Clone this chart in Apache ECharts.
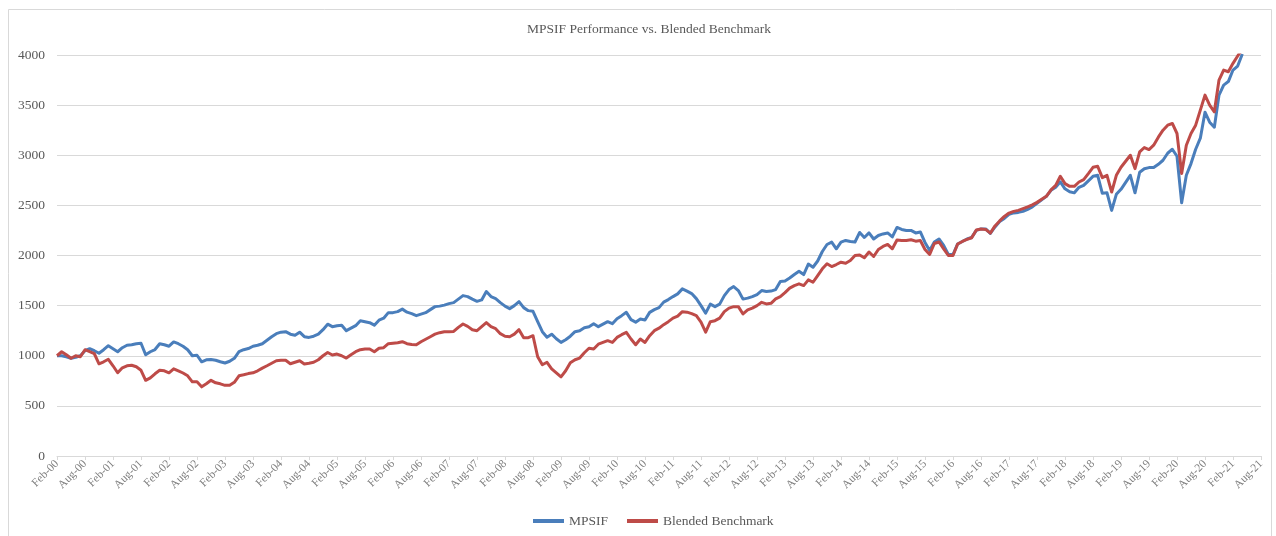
<!DOCTYPE html>
<html>
<head>
<meta charset="utf-8">
<script src="https://cdn.jsdelivr.net/npm/echarts@6/dist/echarts.min.js"></script>
<style>
    html, body { margin: 0; padding: 0; background: #fff; }
    #chart { width: 1276px; height: 536px; }
</style>
</head>
<body>
<div id="chart"></div>
<script>
// month labels, Feb-00 .. Aug-21
const monthNames = ['Jan', 'Feb', 'Mar', 'Apr', 'May', 'Jun', 'Jul', 'Aug', 'Sep', 'Oct', 'Nov', 'Dec']
const firstYear = 2000
const firstMonth = 1   // Feb
const monthCount = 259

const yTicks = [0, 500, 1000, 1500, 2000, 2500, 3000, 3500, 4000]

// values, one per month starting Feb-00
const mpsif = [
    1000, 1000, 990, 975, 985, 1000, 1050, 1070, 1050, 1025, 1060,
    1100, 1070, 1040, 1080, 1105, 1110, 1120, 1125, 1010, 1040, 1062, 1120,
    1110, 1095, 1138, 1120, 1095, 1060, 1000, 1005, 940, 960, 962, 955,
    940, 928, 945, 975, 1040, 1060, 1072, 1095, 1105, 1120, 1155, 1190,
    1220, 1235, 1240, 1215, 1205, 1235, 1190, 1183, 1195, 1215, 1260, 1315,
    1290, 1300, 1305, 1250, 1275, 1300, 1350, 1340, 1330, 1305, 1355, 1375,
    1430, 1430, 1440, 1465, 1435, 1420, 1400, 1415, 1430, 1460, 1490, 1495,
    1505, 1520, 1530, 1565, 1600, 1590, 1565, 1543, 1557, 1640, 1590, 1570,
    1530, 1495, 1470, 1500, 1540, 1480, 1450, 1443, 1340, 1240, 1185, 1215,
    1170, 1133, 1160, 1195, 1240, 1250, 1280, 1290, 1320, 1290, 1315, 1340,
    1320, 1370, 1400, 1433, 1360, 1335, 1367, 1357, 1433, 1460, 1480, 1535,
    1560, 1590, 1617, 1667, 1645, 1620, 1570, 1500, 1425, 1515, 1490, 1515,
    1600, 1660, 1690, 1650, 1565, 1575, 1590, 1610, 1650, 1640, 1645, 1660,
    1740, 1745, 1775, 1810, 1843, 1810, 1915, 1883, 1945, 2040, 2110, 2133,
    2067, 2133, 2150, 2140, 2135, 2230, 2180, 2225, 2165, 2200, 2215, 2225,
    2185, 2280, 2260, 2250, 2250, 2225, 2235, 2130, 2050, 2135, 2165, 2100,
    2010, 2010, 2115, 2140, 2165, 2180, 2250, 2265, 2265, 2220, 2285, 2340,
    2370, 2410, 2425, 2430, 2440, 2460, 2485, 2520, 2555, 2590, 2650, 2680,
    2735, 2665, 2635, 2625, 2680, 2700, 2745, 2790, 2800, 2620, 2625, 2450,
    2610, 2660, 2730, 2800, 2625, 2830, 2865, 2877, 2877, 2910, 2950, 3020,
    3060, 2990, 2525, 2800, 2917, 3060, 3170, 3430, 3330, 3280, 3600, 3700,
    3735, 3850, 3890, 4010
]

const benchmark = [
    1000, 1040, 1010, 975, 1000, 990, 1060, 1040, 1020, 920, 940,
    965, 900, 830, 880, 900, 905, 890, 855, 755, 780, 820, 855,
    850, 830, 870, 850, 828, 800, 740, 740, 690, 720, 755, 730,
    720, 705, 705, 735, 800, 810, 822, 830, 850, 877, 900, 925,
    950, 955, 955, 920, 935, 950, 917, 925, 935, 960, 1000, 1033,
    1007, 1017, 1000, 977, 1010, 1040, 1060, 1067, 1067, 1040, 1075, 1080,
    1120, 1125, 1130, 1140, 1120, 1112, 1110, 1140, 1165, 1190, 1215, 1230,
    1240, 1240, 1243, 1283, 1317, 1293, 1260, 1250, 1290, 1330, 1290, 1270,
    1220, 1195, 1190, 1215, 1260, 1180, 1180, 1200, 990, 910, 935, 870,
    830, 790, 850, 930, 960, 977, 1030, 1075, 1067, 1115, 1133, 1150,
    1133, 1183, 1210, 1233, 1167, 1110, 1167, 1133, 1200, 1250, 1275, 1310,
    1340, 1375, 1395, 1440, 1435, 1420, 1400, 1335, 1235, 1340, 1350, 1375,
    1440, 1475, 1490, 1490, 1417, 1457, 1475, 1500, 1533, 1517, 1523, 1567,
    1590, 1630, 1675, 1700, 1717, 1700, 1757, 1733, 1800, 1867, 1917, 1890,
    1910, 1933, 1923, 1950, 2000, 2005, 1977, 2035, 1990, 2060, 2090, 2110,
    2067, 2155, 2150, 2150, 2157, 2143, 2150, 2060, 2010, 2120, 2135, 2067,
    2000, 2000, 2115, 2140, 2160, 2177, 2255, 2265, 2260, 2223, 2295, 2345,
    2390, 2423, 2440, 2450, 2467, 2485, 2505, 2530, 2560, 2590, 2655, 2700,
    2790, 2717, 2690, 2690, 2733, 2757, 2817, 2880, 2890, 2777, 2800, 2633,
    2800, 2880, 2940, 3000, 2867, 3033, 3077, 3057, 3100, 3180, 3250, 3300,
    3317, 3217, 2817, 3100, 3217, 3300, 3450, 3600, 3500, 3433, 3750, 3850,
    3833, 3917, 3990, 4060
]

let categories = []
for (let i = 0; i < monthCount; i++) {
    let m = (firstMonth + i) % 12
    let y = firstYear + Math.floor((firstMonth + i) / 12)
    categories.push(monthNames[m] + '-' + String(y % 100).padStart(2, '0'))
}

const font = "'Liberation Serif', 'Times New Roman', serif"
const textGrey = '#595959'
const labelGrey = '#7f7f7f'
const lineGrey = '#d9d9d9'

let chart = echarts.init(document.querySelector('#chart'), null, { renderer: 'canvas' })

let option = {
    backgroundColor: '#fff',
    animation: false,
    textStyle: { fontFamily: font },
    graphic: [{
        type: 'rect',
        shape: { x: 8.5, y: 9.5, width: 1263, height: 540 },
        style: { fill: 'none', stroke: lineGrey, lineWidth: 1 },
        silent: true
    }],
    title: {
        text: 'MPSIF Performance vs. Blended Benchmark',
        left: 522,
        top: 17,
        textStyle: {
            fontFamily: font,
            fontSize: 13.5,
            fontWeight: 'normal',
            color: textGrey
        }
    },
    legend: {
        data: ['MPSIF', 'Blended Benchmark'],
        left: 528,
        top: 509,
        icon: 'rect',
        itemWidth: 31,
        itemHeight: 4,
        itemGap: 19,
        textStyle: {
            fontFamily: font,
            fontSize: 13.5,
            color: textGrey
        }
    },
    grid: {
        left: 57,
        right: 15,
        top: 55,
        bottom: 80,
        containLabel: false
    },
    xAxis: {
        type: 'category',
        data: categories,
        boundaryGap: false,
        axisLine: { lineStyle: { color: lineGrey, width: 1 } },
        axisTick: {
            interval: 5,
            length: 4,
            lineStyle: { color: lineGrey }
        },
        axisLabel: {
            interval: 5,
            rotate: 45,
            margin: 6,
            fontFamily: font,
            fontSize: 11.5,
            color: labelGrey
        },
        splitLine: { show: false }
    },
    yAxis: {
        type: 'value',
        min: yTicks[0],
        max: yTicks[yTicks.length - 1],
        interval: yTicks[1] - yTicks[0],
        axisLine: { show: false },
        axisTick: { show: false },
        axisLabel: {
            margin: 12,
            fontFamily: font,
            fontSize: 13.5,
            color: textGrey,
            formatter: function (v) { return String(v) }
        },
        splitLine: { lineStyle: { color: lineGrey, width: 1 } }
    },
    series: [
        {
            name: 'MPSIF',
            type: 'line',
            data: mpsif,
            showSymbol: false,
            clip: true,
            color: '#4a7ebb',
            lineStyle: { width: 3, color: '#4a7ebb', join: 'round' }
        },
        {
            name: 'Blended Benchmark',
            type: 'line',
            data: benchmark,
            showSymbol: false,
            clip: true,
            color: '#be4b48',
            lineStyle: { width: 3, color: '#be4b48', join: 'round' }
        }
    ]
}

chart.setOption(option)
</script>
</body>
</html>
